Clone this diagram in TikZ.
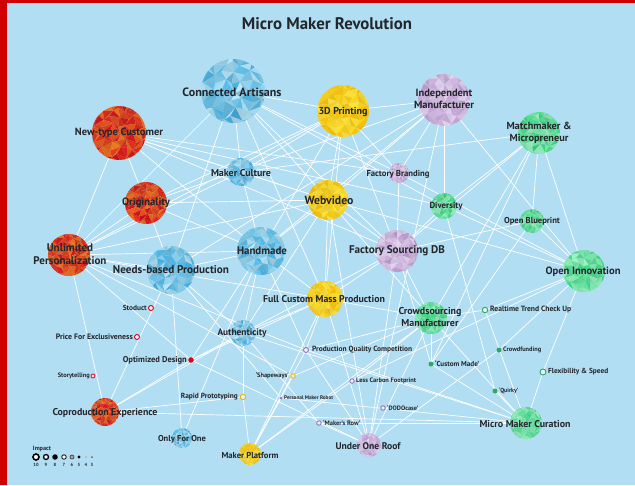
\documentclass[tikz,border=0pt]{standalone}
\usepackage{fontspec}
\setmainfont{PT Sans}
\usepackage{graphicx}
\pgfdeclarelayer{back}
\pgfdeclarelayer{edges}
\pgfsetlayers{back,edges,main}

\definecolor{sky}{HTML}{B2DEF3}
\definecolor{frame}{HTML}{D00000}
\definecolor{ink}{HTML}{23262B}
\definecolor{redA}{HTML}{E0121E}
\definecolor{redB}{HTML}{F7821E}
\definecolor{bluA}{HTML}{48B6E9}
\definecolor{bluB}{HTML}{D2F1FC}
\definecolor{yelA}{HTML}{FAC000}
\definecolor{yelB}{HTML}{FFF04A}
\definecolor{purA}{HTML}{C6A0DA}
\definecolor{purB}{HTML}{F2E6F8}
\definecolor{grnA}{HTML}{3ED984}
\definecolor{grnB}{HTML}{B5FAD4}
\definecolor{mkRed}{HTML}{E0001B}
\definecolor{mkYel}{HTML}{F0B400}
\definecolor{mkPur}{HTML}{9B72B8}
\definecolor{mkGrn}{HTML}{2FA862}

% low-poly fill for the spheres: a jittered grid cut into triangles
% with alternating diagonals, each triangle tinted at random
% #1 radius, #2 and #3 the two tints, #4 lowest share of #2, #5 lowest darkening share
\newcommand\facetfill[5]{%
  \begin{scope}[shift={(path picture bounding box.center)}]
    \pgfmathsetmacro\fs{#1/3.5}
    \foreach \i in {-4,...,3}{\foreach \j in {-4,...,3}{%
      \pgfmathsetmacro\ii{\i+1}\pgfmathsetmacro\jj{\j+1}%
      \pgfmathsetmacro\ax{(\i+0.28*sin(97*\i+193*\j+41))*\fs}%
      \pgfmathsetmacro\ay{(\j+0.28*cos(131*\i+59*\j+17))*\fs}%
      \pgfmathsetmacro\bx{(\ii+0.28*sin(97*\ii+193*\j+41))*\fs}%
      \pgfmathsetmacro\by{(\j+0.28*cos(131*\ii+59*\j+17))*\fs}%
      \pgfmathsetmacro\cx{(\ii+0.28*sin(97*\ii+193*\jj+41))*\fs}%
      \pgfmathsetmacro\cy{(\jj+0.28*cos(131*\ii+59*\jj+17))*\fs}%
      \pgfmathsetmacro\dx{(\i+0.28*sin(97*\i+193*\jj+41))*\fs}%
      \pgfmathsetmacro\dy{(\jj+0.28*cos(131*\i+59*\jj+17))*\fs}%
      \pgfmathtruncatemacro\ma{random(#4,100)}%
      \pgfmathtruncatemacro\mb{random(#4,100)}%
      \pgfmathtruncatemacro\ka{random(#5,100)}%
      \pgfmathtruncatemacro\kb{random(#5,100)}%
      \pgfmathtruncatemacro\pp{mod(\i+\j+8,2)}%
      \ifnum\pp=0
        \fill[#2!\ma!#3!\ka!black] (\ax,\ay) -- (\bx,\by) -- (\cx,\cy) -- cycle;
        \fill[#2!\mb!#3!\kb!black] (\ax,\ay) -- (\dx,\dy) -- (\cx,\cy) -- cycle;
      \else
        \fill[#2!\ma!#3!\ka!black] (\ax,\ay) -- (\bx,\by) -- (\dx,\dy) -- cycle;
        \fill[#2!\mb!#3!\kb!black] (\bx,\by) -- (\cx,\cy) -- (\dx,\dy) -- cycle;
      \fi
    }}
  \end{scope}}

% text scaled to a fixed width
\newcommand\fitw[2]{\resizebox{#1pt}{!}{#2}}
\newcommand\twolines[2]{\begin{tabular}{@{}c@{}}#1\\#2\end{tabular}}

\tikzset{
  ball/.style n args={5}{circle, inner sep=0pt, minimum size=2*#1,
    path picture={\facetfill{#1}{#2}{#3}{#4}{#5}}},
  redball/.style={ball={#1}{redA}{redB}{5}{86}},
  bluball/.style={ball={#1}{bluA}{bluB}{15}{88}},
  yelball/.style={ball={#1}{yelA}{yelB}{20}{94}},
  purball/.style={ball={#1}{purA}{purB}{20}{90}},
  grnball/.style={ball={#1}{grnA}{grnB}{20}{90}},
  link/.style={draw=white, line width=0.7pt},
  lab/.style={inner sep=0pt, text=ink, font=\bfseries},
  ring/.style={circle, draw=#1, line width=0.9pt, fill=white!65!sky, inner sep=0pt, minimum size=5pt},
  dot/.style={circle, fill=#1, inner sep=0pt, minimum size=5pt},
}

\begin{document}
\begin{tikzpicture}[x=1pt,y=-1pt]
\pgfmathsetseed{11}
\useasboundingbox (0,0) rectangle (635,485);
\begin{pgfonlayer}{back}
  \fill[sky] (0,0) rectangle (635,485);
  \fill[frame] (0,0) rectangle (7,485);
  \fill[frame] (0,0) rectangle (635,3);
\end{pgfonlayer}

\node[lab] (title) at (327,24) {\fitw{170}{Micro Maker Revolution}};

% spheres
\node[bluball=32] (ca)   at (233,91)  {};
\node[redball=27] (ntc)  at (119,133) {};
\node[yelball=26] (tdp)  at (343,111) {};
\node[purball=26] (im)   at (444,100) {};
\node[grnball=21] (mm)   at (539,133) {};
\node[bluball=14] (mc)   at (241,172) {};
\node[purball=10] (fb)   at (399,173) {};
\node[redball=21] (ori)  at (146,203) {};
\node[yelball=20] (wv)   at (328,200) {};
\node[grnball=13] (div)  at (444,206) {};
\node[grnball=12] (ob)   at (532,221) {};
\node[redball=21] (up)   at (69,255)  {};
\node[bluball=24] (hm)   at (261,251) {};
\node[bluball=24] (nbp)  at (171,270) {};
\node[purball=21] (fsdb) at (397,251) {};
\node[grnball=21] (oi)   at (584,271) {};
\node[yelball=18] (fcmp) at (325,299) {};
\node[grnball=16] (csm)  at (431,318) {};
\node[bluball=13] (auth) at (243,333) {};
\node[redball=14] (ce)   at (105,412) {};
\node[bluball=10] (ofo)  at (182,438) {};
\node[yelball=11] (mp)   at (250,454) {};
\node[purball=12] (uor)  at (369,445) {};
\node[grnball=16] (mmc)  at (526,423) {};

% small markers
\node[ring=mkRed] (stod)   at (151,308) {};
\node[ring=mkRed] (pfe)    at (137,337) {};
\node[dot=mkRed, minimum size=5.5pt] (od) at (191,360) {};
\node[ring=mkRed, minimum size=4pt, line width=0.8pt] (story) at (93,376) {};
\node[ring=mkYel, minimum size=4.5pt] (shape) at (293,376) {};
\node[ring=mkYel, minimum size=5.5pt] (rp)    at (243,397) {};
\node[dot=mkPur, minimum size=3pt] (pmr)   at (281,398) {};
\node[ring=mkPur] (pqc)    at (306,350) {};
\node[ring=mkPur, minimum size=4.5pt] (lcf)  at (352,381) {};
\node[ring=mkPur, minimum size=4.5pt] (dodo) at (383,408) {};
\node[ring=mkPur, minimum size=4.5pt] (mrow) at (319,423) {};
\node[ring=mkGrn, minimum size=5.5pt] (rtc)  at (485,310) {};
\node[dot=mkGrn] (cfund)  at (499,350) {};
\node[dot=mkGrn] (cmade)  at (431,364) {};
\node[ring=mkGrn, minimum size=6pt] (flex)   at (543,372) {};
\node[dot=mkGrn] (quirky) at (495,391) {};

% connectors
\begin{pgfonlayer}{edges}
\foreach \a/\b in {ca/tdp, ca/mc, ca/nbp, ca/up, ca/fcmp, ca/wv, ca/fb, ca/fsdb, ca/div,
  ntc/up, ntc/ori, ntc/mc, ntc/wv, ntc/fb, ntc/hm, ntc/fsdb, ntc/div,
  tdp/im, tdp/ori, tdp/up, tdp/hm, tdp/wv, tdp/fsdb, tdp/fcmp, tdp/fb, tdp/mc,
  im/ori, im/nbp, im/hm, im/div, im/oi, im/uor, im/fb, im/wv,
  mm/ob, mm/oi, mm/mc, mm/div, mm/csm, mm/cmade, mm/fsdb,
  mc/hm, mc/up, mc/wv,
  fb/fsdb, fb/oi,
  ori/nbp, ori/up, ori/hm, ori/wv,
  wv/oi, wv/fsdb, wv/fcmp, wv/hm, wv/up, wv/csm, wv/uor, wv/auth,
  div/oi, div/quirky, div/fsdb,
  ob/oi, ob/fsdb, ob/cmade,
  up/nbp, up/hm, up/ce, up/od, up/fcmp, up/shape, up/pqc,
  nbp/ce, nbp/ofo, nbp/hm, nbp/pmr, nbp/auth,
  hm/fcmp, hm/auth, hm/pqc, hm/ofo, hm/od,
  fsdb/csm, fsdb/uor, fsdb/cmade, fsdb/fcmp, fsdb/auth,
  fcmp/auth, fcmp/uor, fcmp/mp, fcmp/pqc, fcmp/od, fcmp/csm,
  csm/mmc, csm/rtc, csm/uor, csm/pqc, csm/mp, csm/lcf, csm/cmade,
  auth/od, auth/ce, auth/rp, auth/mmc, auth/mrow,
  rp/mp, rp/ce, shape/mp, shape/csm, pmr/mmc, pmr/mp,
  pqc/mmc, pqc/mp, pqc/uor, lcf/oi, lcf/mp, mrow/uor, mrow/mmc,
  rtc/oi, rtc/mmc, cfund/oi, cfund/uor, cmade/mmc, quirky/mmc,
  flex/oi, flex/mmc, od/ce, od/uor, ce/mmc}
  \draw[link] (\a.center) -- (\b.center);
\end{pgfonlayer}

% sphere labels
\node[lab] (ca-t)   at (232,92)  {\fitw{99}{Connected Artisans}};
\node[lab] (ntc-t)  at (119,133) {\fitw{88}{New-type Customer}};
\node[lab] (tdp-t)  at (343,112) {\fitw{49}{3D Printing}};
\node[lab] (im-t)   at (444,100) {\fitw{60}{\twolines{Independent}{Manufacturer}}};
\node[lab] (mm-t)   at (539,133) {\fitw{65}{\twolines{Matchmaker \&}{Micropreneur}}};
\node[lab] (mc-t)   at (241,173) {\fitw{60}{Maker Culture}};
\node[lab] (fb-t)   at (398,174) {\fitw{63}{Factory Branding}};
\node[lab] (ori-t)  at (146,203) {\fitw{48}{Originality}};
\node[lab] (wv-t)   at (329,200) {\fitw{49}{Webvideo}};
\node[lab] (div-t)  at (446,206) {\fitw{33}{Diversity}};
\node[lab] (ob-t)   at (532,221) {\fitw{56}{Open Blueprint}};
\node[lab] (up-t)   at (70,255)  {\fitw{73}{\twolines{Unlimited}{Personalization}}};
\node[lab] (hm-t)   at (262,251) {\fitw{50}{Handmade}};
\node[lab] (nbp-t)  at (171,270) {\fitw{116}{Needs-based Production}};
\node[lab] (fsdb-t) at (397,251) {\fitw{96}{Factory Sourcing DB}};
\node[lab] (oi-t)   at (583,272) {\fitw{75}{Open Innovation}};
\node[lab] (fcmp-t) at (324,299) {\fitw{122}{Full Custom Mass Production}};
\node[lab] (csm-t)  at (430,318) {\fitw{63}{\twolines{Crowdsourcing}{Manufacturer}}};
\node[lab] (auth-t) at (242,333) {\fitw{49}{Authenticity}};
\node[lab] (ce-t)   at (105,413) {\fitw{105}{Coproduction Experience}};
\node[lab] (ofo-t)  at (182,439) {\fitw{48}{Only For One}};
\node[lab] (mp-t)   at (250,455) {\fitw{57}{Maker Platform}};
\node[lab] (uor-t)  at (368,446) {\fitw{65}{Under One Roof}};
\node[lab] (mmc-t)  at (525,424) {\fitw{91}{Micro Maker Curation}};

% marker labels
\node[lab, anchor=east] (stod-t)   at (147,308) {\fitw{24}{Stoduct}};
\node[lab, anchor=east] (pfe-t)    at (133,337) {\fitw{77}{Price For Exclusiveness}};
\node[lab, anchor=east] (od-t)     at (187,360) {\fitw{64}{Optimized Design}};
\node[lab, anchor=east] (story-t)  at (90,376)  {\fitw{32}{Storytelling}};
\node[lab, anchor=east] (shape-t)  at (289,376) {\fitw{33}{`Shapeways'}};
\node[lab, anchor=east] (rp-t)     at (238,397) {\fitw{57}{Rapid Prototyping}};
\node[lab, anchor=west] (pmr-t)    at (284,398) {\fitw{49}{Personal Maker Robot}};
\node[lab, anchor=west] (pqc-t)    at (312,350) {\fitw{100}{Production Quality Competition}};
\node[lab, anchor=west] (lcf-t)    at (356,381) {\fitw{60}{Less Carbon Footprint}};
\node[lab, anchor=west] (dodo-t)   at (387,408) {\fitw{31}{`DODOcase'}};
\node[lab, anchor=west] (mrow-t)   at (323,423) {\fitw{37}{`Maker's Row'}};
\node[lab, anchor=west] (rtc-t)    at (490,310) {\fitw{81}{Realtime Trend Check Up}};
\node[lab, anchor=west] (cfund-t)  at (503,350) {\fitw{38}{Crowdfunding}};
\node[lab, anchor=west] (cmade-t)  at (435,364) {\fitw{44}{`Custom Made'}};
\node[lab, anchor=west] (flex-t)   at (548,372) {\fitw{60}{Flexibility \& Speed}};
\node[lab, anchor=west] (quirky-t) at (499,391) {\fitw{19}{`Quirky'}};

% impact legend
\node[lab] (imp) at (42,449) {\fitw{18}{Impact}};
\node[circle, draw=black, line width=1.6pt, fill=white, inner sep=0pt, minimum size=6pt] (l10) at (36,457) {};
\node[circle, draw=black, line width=1.3pt, fill=white, inner sep=0pt, minimum size=5pt] (l9) at (46,457) {};
\node[circle, fill=black, inner sep=0pt, minimum size=5.5pt] (l8) at (55,457) {};
\node[circle, draw=black, line width=0.8pt, fill=white, inner sep=0pt, minimum size=4.5pt] (l7) at (64,457) {};
\node[circle, draw=black!70, line width=0.8pt, fill=black!35, inner sep=0pt, minimum size=4pt] (l6) at (72,457) {};
\node[circle, fill=black, inner sep=0pt, minimum size=3.4pt] (l5) at (79,457) {};
\node[circle, fill=black!25, inner sep=0pt, minimum size=3pt] (l4) at (86,457) {};
\node[circle, fill=black!60, inner sep=0pt, minimum size=2pt] (l3) at (92,457) {};
\foreach \n/\x in {10/36, 9/46, 8/55, 7/64, 6/72, 5/79, 4/86, 3/92}
  \node[lab, font=\bfseries\fontsize{4.5}{5}\selectfont] (n\n) at (\x,464.5) {\n};
\end{tikzpicture}
\end{document}
